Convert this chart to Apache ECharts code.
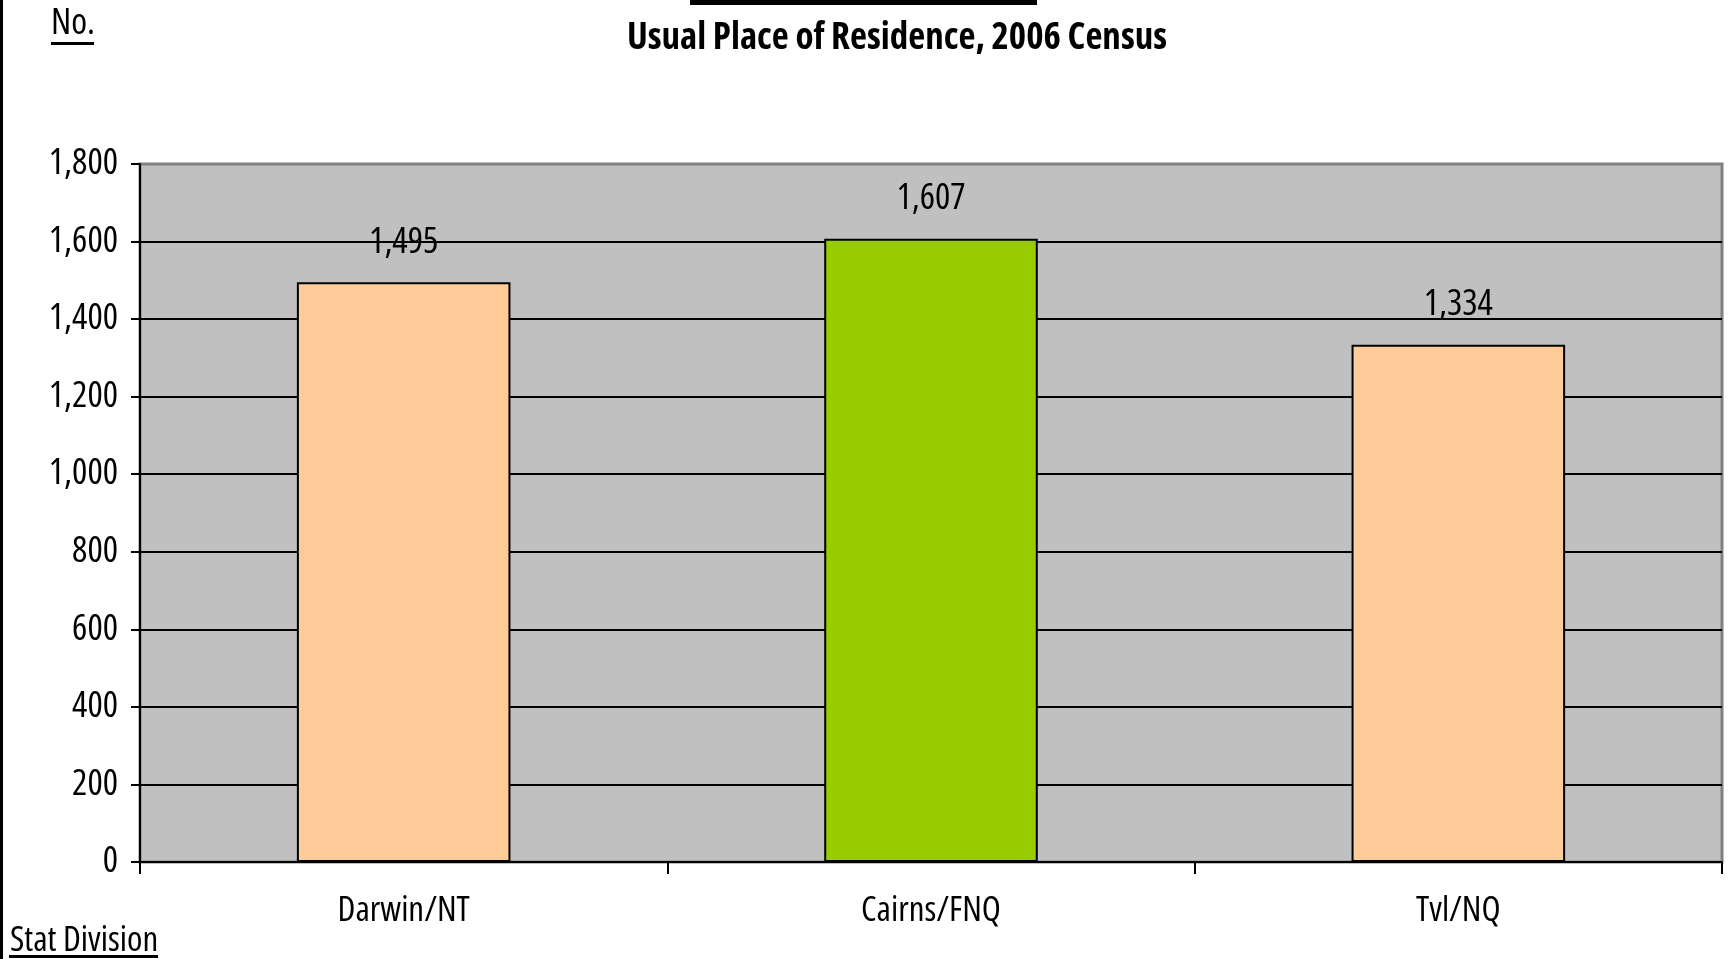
<!DOCTYPE html>
<html>
<head>
<meta charset="utf-8">
<script src="https://cdn.jsdelivr.net/npm/echarts@6/dist/echarts.min.js"></script>
<style>
  html, body { margin: 0; padding: 0; background: #fff; }
  #chart { width: 1730px; height: 959px; }
</style>
</head>
<body>
<div id="chart"></div>
<script>
// chart data
const categories = ["Darwin/NT", "Cairns/FNQ", "Tvl/NQ"];
const values = [1495, 1607, 1334];
const barColors = ["#FFCC99", "#99CC00", "#FFCC99"];

// narrow look: Open Sans at its condensed width
const FONT = "'Open Sans', 'Liberation Sans', sans-serif";
const STRETCH = "condensed";

let myChart = echarts.init(document.getElementById("chart"));
let option = {
  backgroundColor: "#ffffff",
  animation: false,
  title: {
    text: "Usual Place of Residence, 2006 Census",
    left: 892,
    textAlign: "center",
    top: 15,
    textStyle: {
      fontFamily: FONT,
      fontStyle: STRETCH,
      fontSize: 37,
      fontWeight: "bold",
      color: "#000"
    }
  },
  grid: {
    left: 140,
    top: 164,
    right: 8,
    bottom: 97,
    show: true,
    backgroundColor: "#C0C0C0",
    borderColor: "#808080",
    borderWidth: 3
  },
  xAxis: {
    type: "category",
    data: categories,
    axisLine: { show: true, lineStyle: { color: "#000", width: 2 } },
    axisTick: { show: true, length: 12, lineStyle: { color: "#000", width: 2 } },
    axisLabel: {
      margin: 32,
      fontFamily: FONT,
      fontStyle: STRETCH,
      fontSize: 35,
      color: "#000"
    }
  },
  yAxis: {
    type: "value",
    min: 0,
    max: 1800,
    interval: 200,
    axisLine: { show: true, lineStyle: { color: "#000", width: 2 } },
    axisTick: { show: true, length: 9, lineStyle: { color: "#000", width: 2 } },
    axisLabel: {
      margin: 22,
      padding: [6, 0, 0, 0],
      fontFamily: FONT,
      fontStyle: STRETCH,
      fontSize: 36,
      color: "#000",
      formatter: v => v.toLocaleString("en-US")
    },
    splitLine: {
      show: true,
      showMaxLine: false,
      lineStyle: { color: "#000", width: 2 }
    }
  },
  series: [
    {
      type: "bar",
      barWidth: "40.5%",
      data: values.map((v, i) => ({
        value: v,
        itemStyle: { color: barColors[i] }
      })),
      itemStyle: { borderColor: "#000", borderWidth: 2 },
      label: {
        show: true,
        position: "top",
        distance: 22,
        fontFamily: FONT,
        fontStyle: STRETCH,
        fontSize: 36,
        color: "#000",
        formatter: p => p.value.toLocaleString("en-US")
      }
    }
  ],
  graphic: [
    // left page border
    { type: "rect", left: 0, top: 0, shape: { width: 3, height: 959 }, style: { fill: "#000" } },
    // cut-off underline of the heading above
    { type: "rect", left: 690, top: 0, shape: { width: 347, height: 5 }, style: { fill: "#000" } },
    {
      type: "text", left: 51, top: 6,
      style: { text: "No.", font: STRETCH + " 36px " + FONT, fill: "#000" }
    },
    { type: "rect", left: 51, top: 42, shape: { width: 43, height: 3 }, style: { fill: "#000" } },
    {
      type: "text", left: 10, top: 924,
      style: { text: "Stat Division", font: STRETCH + " 35px " + FONT, fill: "#000" }
    },
    { type: "rect", left: 9, top: 955, shape: { width: 149, height: 3 }, style: { fill: "#000" } }
  ]
};
myChart.setOption(option);
window.addEventListener("resize", () => {
  myChart.resize();
});
</script>
</body>
</html>
